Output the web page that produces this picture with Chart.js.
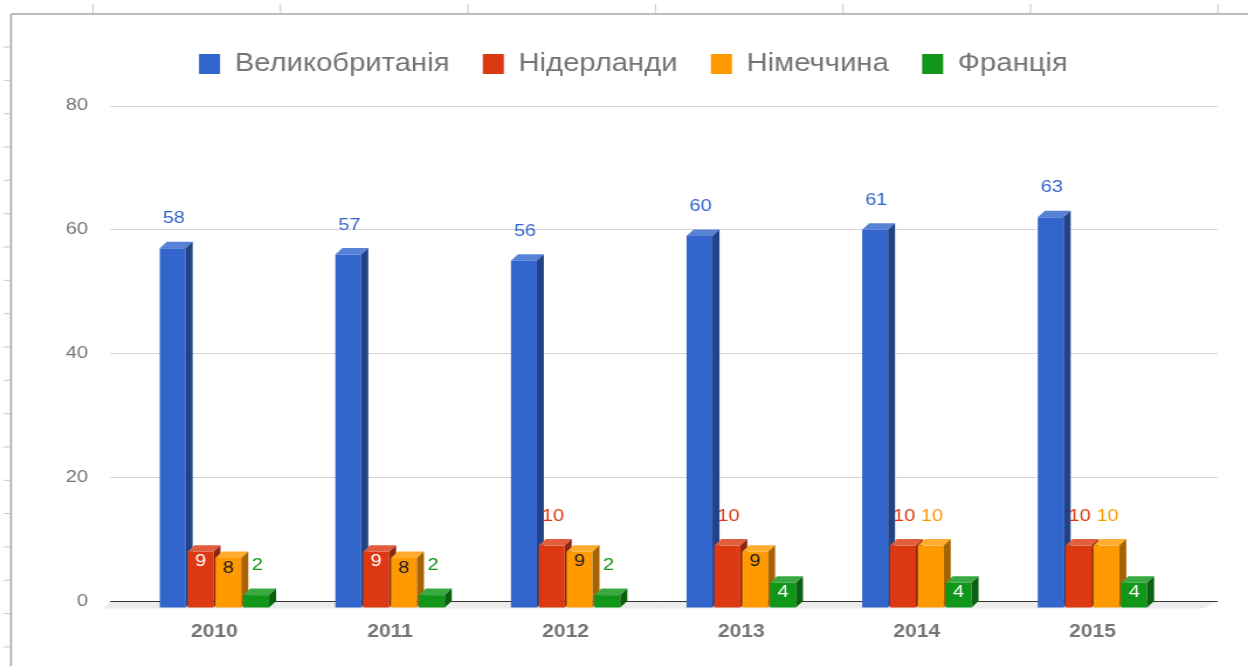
<!DOCTYPE html>
<html>
<head>
<meta charset="utf-8">
<script src="https://cdn.jsdelivr.net/npm/chart.js@4/dist/chart.umd.min.js"></script>
<style>
  html, body { margin: 0; padding: 0; background: #fff; overflow: hidden; }
  #wrap { width: 1067px; height: 666px; transform: scaleX(1.1697); transform-origin: 0 0; }
</style>
</head>
<body>
<div id="wrap"><canvas id="chart"></canvas></div>
<script>
const years = ["2010", "2011", "2012", "2013", "2014", "2015"];
const seriesNames = ["Великобританія", "Нідерланди", "Німеччина", "Франція"];
const ukValues = [58, 57, 56, 60, 61, 63];
const nlValues = [9, 9, 10, 10, 10, 10];
const deValues = [8, 8, 9, 9, 10, 10];
const frValues = [2, 2, 2, 4, 4, 4];
const yTicks = [0, 20, 40, 60, 80];

const colors = ["#3366cc", "#dc3912", "#ff9900", "#109618"];
const FONT = "Arial, 'Liberation Sans', sans-serif";
const DX = 6, DY = 6.5; // depth of the 3d bars

function shade(hex, f) {
  const n = parseInt(hex.slice(1), 16);
  let r = n >> 16, g = (n >> 8) & 255, b = n & 255;
  if (f >= 0) { r += (255 - r) * f; g += (255 - g) * f; b += (255 - b) * f; }
  else { r *= 1 + f; g *= 1 + f; b *= 1 + f; }
  return `rgb(${Math.round(r)},${Math.round(g)},${Math.round(b)})`;
}

function yiq(hex) {
  const n = parseInt(hex.slice(1), 16);
  return ((n >> 16) * 299 + ((n >> 8) & 255) * 587 + (n & 255) * 114) / 1000;
}

// spreadsheet frame behind the chart
const sheetFrame = {
  id: "sheetFrame",
  afterLayout(chart) {
    // nudge the legend to where the sheet puts it
    const lg = chart.legend;
    lg.left += 19; lg.right += 19;
    lg.top -= 19; lg.bottom -= 19;
  },
  beforeDraw(chart) {
    const ctx = chart.ctx;
    ctx.save();
    ctx.fillStyle = "#fff";
    ctx.fillRect(0, 0, chart.width, chart.height);
    ctx.strokeStyle = "#a6a6a6";
    ctx.lineWidth = 1.6;
    ctx.beginPath();
    ctx.moveTo(9.4, 14); ctx.lineTo(9.4, chart.height);
    ctx.moveTo(9.4, 14); ctx.lineTo(chart.width, 14);
    ctx.stroke();
    ctx.strokeStyle = "#c8c8c8";
    ctx.lineWidth = 1;
    ctx.beginPath();
    for (let x = 79.5; x < chart.width; x += 160.3) { ctx.moveTo(x, 4); ctx.lineTo(x, 14); }
    for (let y = 47; y < chart.height; y += 33.33) { ctx.moveTo(3, y); ctx.lineTo(9, y); }
    ctx.stroke();
    ctx.restore();
  }
};

// back wall grid + floor
const wallGrid = {
  id: "wallGrid",
  beforeDatasetsDraw(chart) {
    const ctx = chart.ctx, ys = chart.scales.y, area = chart.chartArea;
    const gl = area.left - 20, gr = area.right + 26;
    const y0 = ys.getPixelForValue(0);
    ctx.save();
    ctx.fillStyle = "#ececec";
    ctx.beginPath();
    ctx.moveTo(gl, y0); ctx.lineTo(gr, y0); ctx.lineTo(gr - DX * 2, y0 + DY + 1); ctx.lineTo(gl - DX, y0 + DY + 1);
    ctx.closePath(); ctx.fill();
    ctx.lineWidth = 1;
    yTicks.forEach(v => {
      const y = Math.round(ys.getPixelForValue(v)) + 0.5;
      ctx.strokeStyle = v === 0 ? "#333" : "#d4d4d4";
      ctx.beginPath(); ctx.moveTo(gl, y); ctx.lineTo(gr, y); ctx.stroke();
    });
    ctx.restore();
  },
  beforeDatasetDraw() {
    return false; // bars are drawn by bars3d
  }
};

const bars3d = {
  id: "bars3d",
  afterDatasetsDraw(chart) {
    const ctx = chart.ctx;
    ctx.save();
    years.forEach((_, i) => {
      chart.data.datasets.forEach((ds, di) => {
        const el = chart.getDatasetMeta(di).data[i];
        const { x, y, base, width } = el.getProps(["x", "y", "base", "width"], true);
        const c = ds.backgroundColor;
        const l = x - width / 2 - DX, r = x + width / 2 - DX;
        const top = y + DY, bottom = base + DY;
        ctx.fillStyle = c;
        ctx.fillRect(l, top, r - l, bottom - top);
        ctx.fillStyle = shade(c, 0.18);
        ctx.beginPath();
        ctx.moveTo(l, top); ctx.lineTo(r, top); ctx.lineTo(r + DX, y); ctx.lineTo(l + DX, y);
        ctx.closePath(); ctx.fill();
        ctx.fillStyle = shade(c, -0.35);
        ctx.beginPath();
        ctx.moveTo(r, top); ctx.lineTo(r + DX, y); ctx.lineTo(r + DX, base); ctx.lineTo(r, bottom);
        ctx.closePath(); ctx.fill();
      });
    });
    // value labels
    ctx.font = `17px ${FONT}`;
    ctx.textAlign = "center";
    ctx.textBaseline = "middle";
    chart.data.datasets.forEach((ds, di) => {
      chart.getDatasetMeta(di).data.forEach((el, i) => {
        const { x, y, base, width } = el.getProps(["x", "y", "base", "width"], true);
        const txt = String(ds.data[i]);
        const tw = ctx.measureText(txt).width;
        const cx = x - DX;
        if (tw + 8 <= width && base - y >= 20) {
          ctx.fillStyle = yiq(ds.backgroundColor) > 128 ? "#1a1a1a" : "#fff";
          ctx.fillText(txt, cx, y + DY + 10);
        } else {
          ctx.fillStyle = ds.backgroundColor;
          ctx.fillText(txt, cx + 1, y - 23);
        }
      });
    });
    ctx.restore();
  }
};

const series = [ukValues, nlValues, deValues, frValues];

new Chart(document.getElementById("chart"), {
  type: "bar",
  data: {
    labels: years,
    datasets: series.map((vals, i) => ({
      label: seriesNames[i],
      data: vals,
      backgroundColor: colors[i],
      borderWidth: 0,
      categoryPercentage: 0.634,
      barPercentage: 0.93
    }))
  },
  options: {
    responsive: true,
    maintainAspectRatio: false,
    animation: false,
    layout: { padding: { left: 30, right: 52, top: 42, bottom: 0 } },
    plugins: {
      legend: {
        position: "top",
        labels: {
          boxWidth: 18,
          boxHeight: 20,
          padding: 28.5,
          color: "#757575",
          font: { family: FONT, size: 25 }
        }
      },
      tooltip: { enabled: false }
    },
    scales: {
      x: {
        grid: { display: false, drawTicks: false },
        border: { display: false },
        ticks: {
          color: "#757575",
          font: { family: FONT, size: 18, weight: "bold" },
          padding: 20,
          labelOffset: -6
        },
        afterFit(scale) { scale.height = 65; }
      },
      y: {
        min: 0,
        max: 80,
        grid: { display: false, drawTicks: false },
        border: { display: false },
        ticks: {
          stepSize: 20,
          color: "#757575",
          font: { family: FONT, size: 17 },
          padding: 39
        },
        afterFit(scale) { scale.width = 84.25; }
      }
    }
  },
  plugins: [sheetFrame, wallGrid, bars3d]
});
</script>
</body>
</html>
